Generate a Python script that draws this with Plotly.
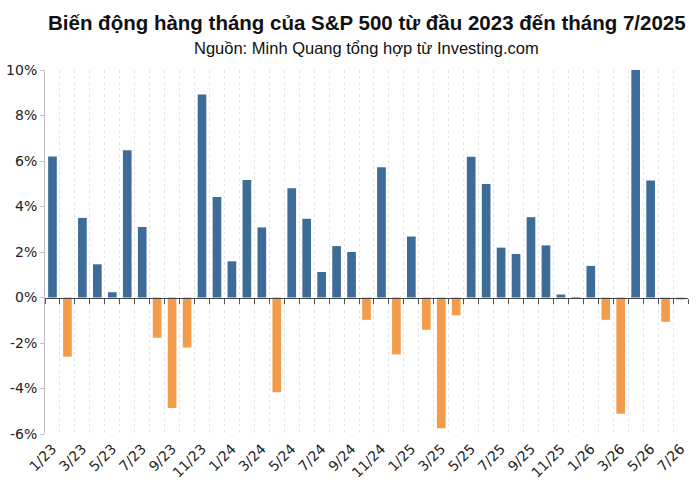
import plotly.graph_objects as go

# monthly change of S&P 500, in percent
months = ["1/23", "2/23", "3/23", "4/23", "5/23", "6/23", "7/23", "8/23", "9/23", "10/23", "11/23", "12/23",
          "1/24", "2/24", "3/24", "4/24", "5/24", "6/24", "7/24", "8/24", "9/24", "10/24", "11/24", "12/24",
          "1/25", "2/25", "3/25", "4/25", "5/25", "6/25", "7/25", "8/25", "9/25", "10/25", "11/25", "12/25",
          "1/26", "2/26", "3/26", "4/26", "5/26", "6/26", "7/26"]
changes = [6.2, -2.6, 3.5, 1.46, 0.23, 6.47, 3.1, -1.77, -4.86, -2.2, 8.92, 4.42,
           1.59, 5.17, 3.08, -4.16, 4.8, 3.46, 1.12, 2.26, 2.0, -0.98, 5.72, -2.5,
           2.68, -1.42, -5.75, -0.78, 6.19, 4.99, 2.19, 1.91, 3.53, 2.29, 0.13, -0.04,
           1.39, -0.98, -5.11, 10.0, 5.14, -1.07, -0.09]

y_ticks = [-6, -4, -2, 0, 2, 4, 6, 8, 10]
y_labels = ["-6%", "-4%", "-2%", "0%", "2%", "4%", "6%", "8%", "10%"]

BLUE = "#3d6c99"
ORANGE = "#f39c4c"

idx = list(range(len(months)))
colors = [BLUE if v >= 0 else ORANGE for v in changes]
label_pos = idx[::2]
label_txt = months[::2]
bounds = [i - 0.5 for i in range(len(months) + 1)]
y_min, y_max = y_ticks[0], y_ticks[-1]

fig = go.Figure()
fig.add_trace(go.Bar(x=idx, y=changes, marker_color=colors, marker_line_width=0,
                     width=0.58, hovertemplate="%{y:.2f}%<extra></extra>"))
# invisible trace so the zero-line axis with tick marks is drawn
fig.add_trace(go.Scatter(x=[0], y=[0], xaxis="x2", mode="markers",
                         marker_opacity=0, showlegend=False, hoverinfo="skip"))

font = "DejaVu Sans"
title_font = "Liberation Sans Narrow, Liberation Sans, Arial"
fig.update_layout(
    width=700, height=490,
    margin=dict(l=45, r=12, t=70, b=56, autoexpand=False),
    plot_bgcolor="white", paper_bgcolor="white",
    showlegend=False,
    font=dict(family=font, color="#222222", size=13),
    xaxis=dict(range=[-0.5, len(months) - 0.5], tickvals=label_pos, ticktext=label_txt,
               tickangle=-45, ticks="", showgrid=False, zeroline=False, showline=False,
               automargin=False, ticklabelstandoff=3,
               tickfont=dict(size=14, color="#222222"),
               minor=dict(tickvals=bounds, showgrid=True, gridcolor="#e4e4e4",
                          griddash="dot", gridwidth=1, ticks="")),
    xaxis2=dict(overlaying="x", anchor="free",
                position=(0 - y_min) / (y_max - y_min),
                range=[-0.5, len(months) - 0.5], tickvals=bounds, ticks="outside",
                ticklen=5, tickcolor="#555555", showticklabels=False, showgrid=False,
                zeroline=False, showline=True, linecolor="#444444", linewidth=1,
                automargin=False),
    yaxis=dict(range=[y_min, y_max], tickvals=y_ticks, ticktext=y_labels,
               showgrid=False, zeroline=False, showline=True, linecolor="#c0c0c0",
               ticks="outside", ticklen=4, tickcolor="#c0c0c0", automargin=False,
               tickfont=dict(size=14, color="#222222")),
    annotations=[
        dict(text="<b>Biến động hàng tháng của S&P 500 từ đầu 2023 đến tháng 7/2025</b>",
             xref="paper", yref="paper", x=0.5, y=1, yshift=48, xanchor="center",
             yanchor="middle", showarrow=False,
             font=dict(family=title_font, size=20.5, color="#111111")),
        dict(text="Nguồn: Minh Quang tổng hợp từ Investing.com",
             xref="paper", yref="paper", x=0.5, y=1, yshift=22, xanchor="center",
             yanchor="middle", showarrow=False,
             font=dict(family=title_font, size=16.5, color="#111111")),
    ],
)

fig.write_html("out.html", config={"displayModeBar": False},
               post_script="document.body.style.margin='0';")
